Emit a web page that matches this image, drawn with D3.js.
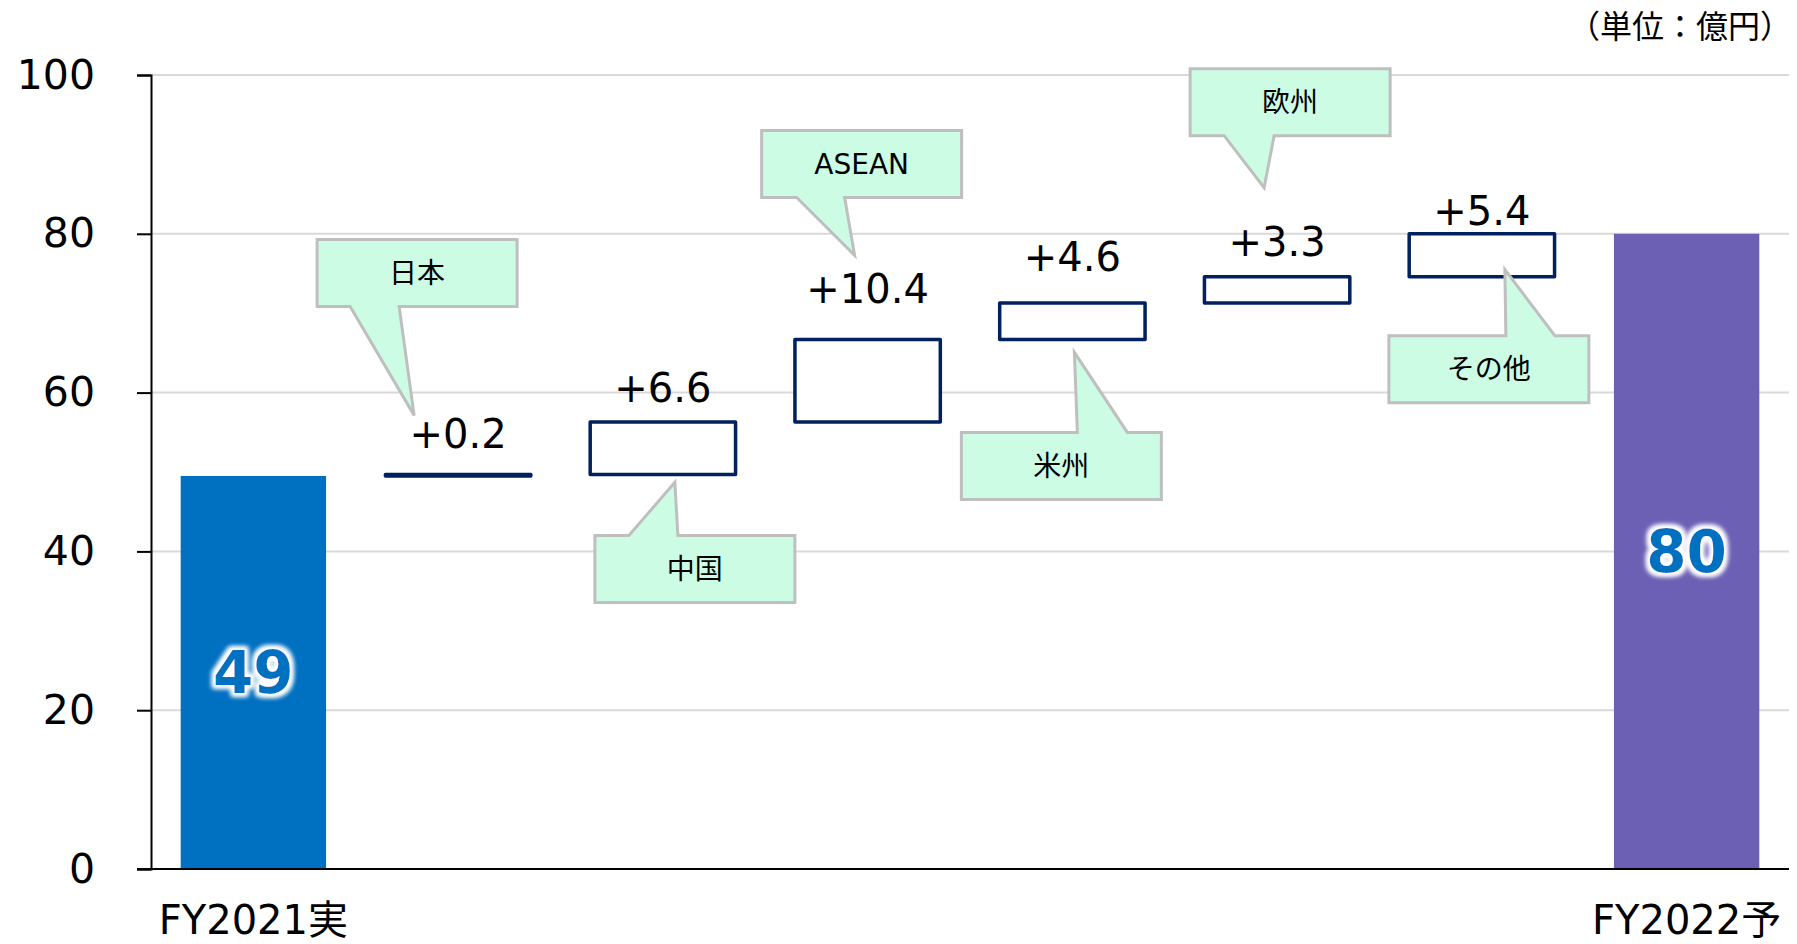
<!DOCTYPE html>
<html>
<head>
<meta charset="utf-8">
<script src="https://cdn.jsdelivr.net/npm/d3@7"></script>
<style>
  html, body { margin: 0; padding: 0; background: #fff; }
  svg { display: block; font-family: "DejaVu Sans", "Noto Sans CJK JP", sans-serif; }
</style>
</head>
<body>
<svg id="chart" width="1797" height="944"></svg>
<script>
// categories along the x axis (empty ones are the step boxes)
const categories = ['FY2021実', 'd1', 'd2', 'd3', 'd4', 'd5', 'd6', 'FY2022予'];
const xTickLabels = ['FY2021実', '', '', '', '', '', '', 'FY2022予'];
const startValue = 49.5;
const endValue = 80;
const deltas = [0.2, 6.6, 10.4, 4.6, 3.3, 5.4];
const deltaLabels = ['+0.2', '+6.6', '+10.4', '+4.6', '+3.3', '+5.4'];
const totalLabels = ['49', '80'];
const regions = ['日本', '中国', 'ASEAN', '米州', '欧州', 'その他'];
const yTicks = [0, 20, 40, 60, 80, 100];
const unitLabel = '（単位：億円）';

// layout for the delta labels and callouts (pixels)
const labelGap = [26, 20, 36, 32, 21, 9];
const callouts = [
  { side: 'bottom', edge: 'top', tipDx: -44, tipDy: -59, boxDx: -97, boxDy: -109, b0: 33, b1: 82 },
  { side: 'top', edge: 'bottom', tipDx: 12, tipDy: 8, boxDx: -80, boxDy: 53, b0: 34, b1: 83 },
  { side: 'bottom', edge: 'top', tipDx: -13, tipDy: -84, boxDx: -93, boxDy: -58, b0: 35, b1: 83 },
  { side: 'top', edge: 'bottom', tipDx: 2, tipDy: 13, boxDx: -113, boxDy: 80, b0: 116, b1: 166 },
  { side: 'bottom', edge: 'top', tipDx: -13, tipDy: -89, boxDx: -74, boxDy: -52, b0: 34, b1: 84 },
  { side: 'top', edge: 'bottom', tipDx: 23, tipDy: -7, boxDx: -116, boxDy: 66, b0: 117, b1: 166 },
];
const boxW = 200;
const boxH = 67;

const svg = d3.select('#chart');

const x = d3
  .scaleBand()
  .domain(categories)
  .range([151, 1789])
  .paddingInner(0.29)
  .paddingOuter(0.145);

const y = d3
  .scaleLinear()
  .domain([0, 100])
  .range([869, 75]);

// glow for the total labels
const glow = svg.append('defs').append('filter')
  .attr('id', 'glow')
  .attr('x', '-30%').attr('y', '-30%')
  .attr('width', '160%').attr('height', '160%');
glow.append('feMorphology').attr('in', 'SourceAlpha').attr('operator', 'dilate').attr('radius', 3).attr('result', 'd');
glow.append('feGaussianBlur').attr('in', 'd').attr('stdDeviation', 2.5).attr('result', 'b');
glow.append('feFlood').attr('flood-color', '#ffffff');
glow.append('feComposite').attr('in2', 'b').attr('operator', 'in').attr('result', 'w');
const merge = glow.append('feMerge');
merge.append('feMergeNode').attr('in', 'w');
merge.append('feMergeNode').attr('in', 'w');
merge.append('feMergeNode').attr('in', 'SourceGraphic');

// gridlines
svg.append('g')
  .selectAll('line')
  .data(yTicks.filter(d => d > 0))
  .enter()
  .append('line')
  .attr('x1', 151)
  .attr('x2', 1789)
  .attr('y1', d => y(d))
  .attr('y2', d => y(d))
  .style('stroke', '#d9d9d9')
  .style('stroke-width', 2);

// y axis
const yAxis = svg.append('g')
  .attr('transform', 'translate(151,0)')
  .call(d3.axisLeft(y).tickValues(yTicks).tickSize(14).tickPadding(42));
yAxis.select('.domain').attr('stroke', '#000').attr('stroke-width', 2);
yAxis.selectAll('.tick line').attr('stroke', '#000').attr('stroke-width', 2);
yAxis.selectAll('.tick text')
  .attr('font-size', 41)
  .attr('font-family', '"DejaVu Sans", sans-serif')
  .attr('fill', '#000');

// step running totals
const steps = [];
let run = startValue;
deltas.forEach((d, i) => {
  steps.push({ cat: categories[i + 1], from: run, to: run + d, label: deltaLabels[i] });
  run += d;
});

// total bars
const totals = [
  { cat: categories[0], value: startValue, color: '#0070c0', label: totalLabels[0] },
  { cat: categories[7], value: endValue, color: '#6c60b5', label: totalLabels[1] },
];

svg.append('g')
  .selectAll('rect')
  .data(totals)
  .enter()
  .append('rect')
  .attr('x', d => x(d.cat))
  .attr('width', x.bandwidth())
  .attr('y', d => y(d.value))
  .attr('height', d => y(0) - y(d.value))
  .style('fill', d => d.color);

// step boxes
svg.append('g')
  .selectAll('rect')
  .data(steps)
  .enter()
  .append('rect')
  .attr('x', d => x(d.cat))
  .attr('width', x.bandwidth())
  .attr('y', d => y(d.to))
  .attr('height', d => y(d.from) - y(d.to))
  .style('fill', '#fff')
  .style('stroke', '#002060')
  .style('stroke-width', 3.5)
  .style('stroke-linejoin', 'round');

// x axis line
svg.append('line')
  .attr('x1', 137)
  .attr('x2', 1789)
  .attr('y1', y(0))
  .attr('y2', y(0))
  .style('stroke', '#000')
  .style('stroke-width', 2);

// x tick labels
svg.append('g')
  .selectAll('text')
  .data(categories)
  .enter()
  .append('text')
  .attr('x', d => x(d) + x.bandwidth() / 2)
  .attr('y', 934)
  .attr('text-anchor', 'middle')
  .attr('font-size', 40)
  .text((d, i) => xTickLabels[i]);

// delta labels
svg.append('g')
  .selectAll('text')
  .data(steps)
  .enter()
  .append('text')
  .attr('x', d => x(d.cat) + x.bandwidth() / 2)
  .attr('y', (d, i) => y(d.to) - labelGap[i])
  .attr('text-anchor', 'middle')
  .attr('font-size', 40)
  .text(d => d.label);

// total labels
svg.append('g')
  .selectAll('text')
  .data(totals)
  .enter()
  .append('text')
  .attr('x', d => x(d.cat) + x.bandwidth() / 2)
  .attr('y', d => (y(0) + y(d.value)) / 2)
  .attr('dy', '0.36em')
  .attr('text-anchor', 'middle')
  .attr('font-size', 58)
  .attr('font-weight', 'bold')
  .attr('fill', '#0070c0')
  .attr('filter', 'url(#glow)')
  .text(d => d.label);

// callouts
const calloutData = steps.map((s, i) => {
  const c = callouts[i];
  const cx = x(s.cat) + x.bandwidth() / 2;
  const ey = c.edge === 'top' ? y(s.to) : y(s.from);
  const tx = cx + c.tipDx;
  const ty = ey + c.tipDy;
  const x0 = tx + c.boxDx;
  const y0 = c.side === 'bottom' ? ty + c.boxDy - boxH : ty + c.boxDy;
  return { text: regions[i], c, tx, ty, x0, y0 };
});

const callout = svg.append('g')
  .selectAll('g')
  .data(calloutData)
  .enter()
  .append('g');

callout.append('path')
  .attr('d', d => {
    const x1 = d.x0 + boxW;
    const y1 = d.y0 + boxH;
    const p = d3.path();
    if (d.c.side === 'bottom') {
      p.moveTo(d.x0, d.y0);
      p.lineTo(x1, d.y0);
      p.lineTo(x1, y1);
      p.lineTo(d.x0 + d.c.b1, y1);
      p.lineTo(d.tx, d.ty);
      p.lineTo(d.x0 + d.c.b0, y1);
      p.lineTo(d.x0, y1);
    } else {
      p.moveTo(d.x0, d.y0);
      p.lineTo(d.x0 + d.c.b0, d.y0);
      p.lineTo(d.tx, d.ty);
      p.lineTo(d.x0 + d.c.b1, d.y0);
      p.lineTo(x1, d.y0);
      p.lineTo(x1, y1);
      p.lineTo(d.x0, y1);
    }
    p.closePath();
    return p.toString();
  })
  .style('fill', '#ccfce4')
  .style('stroke', '#bfbfbf')
  .style('stroke-width', 3);

callout.append('text')
  .attr('x', d => d.x0 + boxW / 2)
  .attr('y', d => d.y0 + boxH / 2)
  .attr('dy', '0.36em')
  .attr('text-anchor', 'middle')
  .attr('font-size', 28)
  .text(d => d.text);

// unit label
svg.append('text')
  .attr('x', 1792)
  .attr('y', 38)
  .attr('text-anchor', 'end')
  .attr('font-size', 32)
  .text(unitLabel);
</script>
</body>
</html>
